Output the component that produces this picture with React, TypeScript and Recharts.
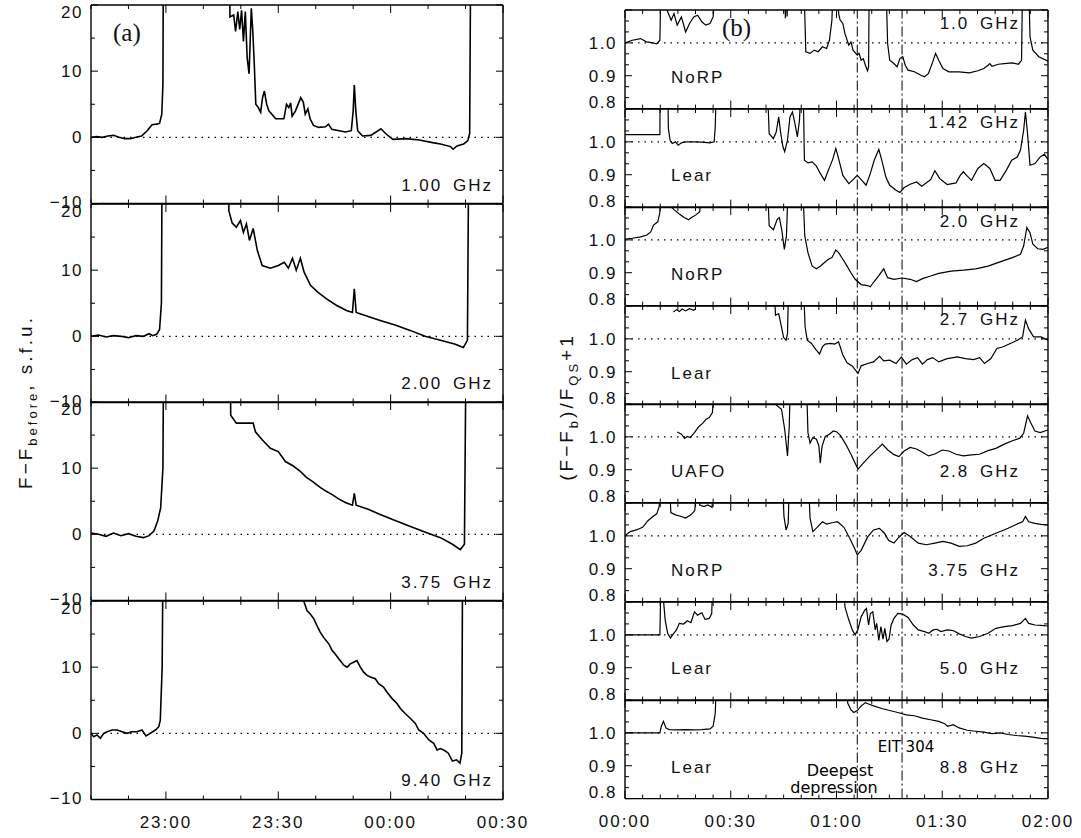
import { Line, LineChart, ReferenceLine, XAxis, YAxis } from 'recharts'

type Pt = [number, number | null]

// time axis in minutes: left panel counted from 22:00, right panel from 00:00
const leftXTicks = [40, 50, 60, 70, 80, 90, 100, 110, 120, 130, 140, 150]
const leftXMajor = [60, 90, 120, 150]
const leftYTicks = [-10, -5, 0, 5, 10, 15, 20]
const leftYMajor = [-10, 0, 10, 20]
const leftYLabels = [-10, 0, 10, 20]

const rightXTicks = [0, 5, 10, 15, 20, 25, 30, 35, 40, 45, 50, 55, 60, 65, 70, 75, 80, 85, 90, 95, 100, 105, 110, 115, 120]
const rightXMajor = [0, 30, 60, 90, 120]
const rightYTicks = [0.8, 0.8333, 0.8667, 0.9, 0.9333, 0.9667, 1.0, 1.0333, 1.0667, 1.1]
const rightYMajor = [0.8, 0.9, 1.0, 1.1]
const rightYLabels = [0.8, 0.9, 1.0]

// deepest depression, EIT 304
const eventTimes = [65.9, 78.6]

// (a) flux minus pre-flare level, s.f.u.
const ghz100: Pt[] = [
  [40, 0], [41.5, 0.1], [43, 0], [44.5, 0.2], [46, 0.3], [47.5, 0], [49, -0.2], [50.5, -0.2], [52, 0],
  [53.5, 0.2], [55, 1], [56.3, 1.9], [57.5, 2], [58.3, 2.1], [58.9, 3.5], [59.2, 8], [59.4, 40],
  [76.8, 40], [77.1, 18.2], [78.1, 18.5], [78.6, 16], [79.2, 19], [79.7, 16.3], [80.2, 19.2], [80.7, 14.5],
  [81.2, 19], [81.7, 12], [82.2, 9.6], [82.8, 19.5], [83.2, 16], [83.6, 11], [84.0, 5], [84.7, 4.5],
  [85.3, 3.8], [85.8, 6], [86.3, 7], [86.9, 5], [87.5, 4], [88.3, 3.5], [89.3, 2.8], [91.5, 2.8],
  [92.2, 5], [92.8, 4.5], [93.3, 5.2], [93.7, 3.2], [94.6, 4], [96.0, 6], [96.7, 5.3], [97.2, 3.5],
  [97.9, 4.3], [98.5, 2.8], [99.4, 1.8], [100.8, 1.5], [102.6, 1.6], [103.4, 2], [104.3, 1.2],
  [107.9, 0.8], [109.5, 1], [110.0, 4], [110.3, 7.9], [110.7, 4], [111.2, 1], [112.5, 0.2],
  [114.7, 0.3], [116.1, 0.8], [117.4, 1.3], [118.8, 0.5], [120.6, -0.3], [124.1, -0.2], [127.7, -0.4],
  [131.2, -0.8], [133.3, -1], [136.0, -1.4], [136.7, -1.8], [137.7, -1.3], [139.5, -1], [140.6, -0.5],
  [141.1, 0.6], [141.5, 40], [150, 40],
]

const ghz200: Pt[] = [
  [40, 0], [42, 0.2], [44, -0.1], [46, 0.1], [48, 0], [50, -0.2], [52, 0.1], [54, 0], [55.5, 0.4],
  [56.5, 0.1], [57.5, 0.3], [58.3, 1], [58.8, 5], [59.1, 40], [76.6, 40], [76.8, 19], [77.7, 17.1],
  [78.8, 16.5], [79.9, 17.5], [80.7, 15.7], [81.5, 17], [82.3, 14.5], [83.3, 16.3], [84.4, 13],
  [85.7, 10.7], [87.9, 10.3], [90.0, 10.7], [91.6, 11.2], [92.7, 10.3], [93.8, 11.8], [94.8, 10],
  [95.9, 11.8], [96.9, 9.7], [98.6, 7.7], [100.7, 6.6], [102.8, 5.7], [105.5, 4.7], [108.2, 3.9],
  [109.8, 3.6], [110.3, 7.2], [110.8, 3.6], [114.0, 3], [117.2, 2.4], [121.2, 1.7], [125.2, 0.9],
  [129.2, 0], [133.3, -0.6], [137.3, -1.2], [139.4, -1.7], [140.5, -0.6], [141.0, 40], [150, 40],
]

const ghz375: Pt[] = [
  [40, 0.2], [42, 0], [44, -0.3], [46, 0.2], [48, -0.2], [50, 0.1], [52, -0.3], [54, -0.5], [55.5, -0.2],
  [56.8, 0.5], [57.8, 2], [58.6, 4], [59.2, 10], [59.5, 40], [77.0, 40], [77.3, 18], [78.8, 16.8],
  [83.3, 16.8], [83.9, 15.5], [85.7, 14.3], [87.9, 13], [90.0, 12.5], [91.9, 11], [93.8, 10.4],
  [95.9, 9.5], [97.5, 8.6], [99.1, 8], [101.2, 7.1], [102.8, 6.5], [104.4, 6], [106.0, 5.4],
  [107.9, 4.8], [109.8, 4.4], [110.3, 6.2], [110.8, 4.4], [114.0, 3.8], [117.2, 3], [121.2, 2.1],
  [125.3, 1.2], [129.3, 0.3], [133.3, -0.5], [136.5, -1.5], [138.6, -2.3], [139.7, -1.5], [140.3, 40],
  [150, 40],
]

const ghz940: Pt[] = [
  [40, 0], [40.7, -0.5], [41.6, -0.25], [42.5, -0.75], [43.4, 0], [44.3, 0.25], [45.6, 0.5], [47, 0.5],
  [48.3, 0.25], [49.6, 0], [50.9, 0.25], [52.3, 0.25], [53.6, 0.5], [54.7, -0.4], [55.8, 0], [57.2, 0.5],
  [58.1, 1], [58.5, 2], [59.0, 10], [59.4, 40], [96.6, 40], [96.8, 20], [97.7, 18.5], [98.6, 18],
  [99.5, 17.3], [100.3, 16.3], [101.2, 15.3], [102.1, 14.5], [103.5, 13.5], [104.4, 12.5], [105.2, 12],
  [106.1, 11.3], [107.5, 10.3], [108.4, 10], [109.2, 10.5], [110.1, 10.75], [111.0, 11], [111.9, 10],
  [112.8, 9.25], [113.7, 8.75], [114.6, 8.5], [115.9, 8.25], [116.8, 7.5], [118.1, 7], [119.0, 6.25],
  [120.4, 5.25], [121.7, 4.5], [122.6, 3.75], [123.9, 3], [125.3, 2.25], [126.6, 1.5], [127.5, 0.5],
  [128.8, 0], [130.2, -1], [131.5, -1.5], [132.4, -2.5], [133.3, -2.3], [134.4, -2.6], [135.4, -3],
  [136.5, -4.2], [137.6, -4], [138.5, -4.5], [139.0, -3], [139.3, 40], [150, 40],
]

// (b) normalised flux (F - Fb)/Fqs + 1
const norp10: Pt[] = [
  [0, 1.0], [2.1, 1.008], [4.4, 1.013], [6.1, 1.003], [7.9, 1.0], [9.0, 0.997], [9.9, 1.008], [10.2, 1.2],
  [11.7, 1.2], [11.9, 1.1], [13.1, 1.069], [13.9, 1.089], [14.8, 1.054], [16.0, 1.079], [17.2, 1.033],
  [18.3, 1.059], [19.5, 1.079], [20.6, 1.084], [21.8, 1.064], [22.9, 1.054], [24.1, 1.059], [25.0, 1.079],
  [25.8, 1.2], [45.2, 1.2], [45.5, 1.075], [45.8, 1.2], [46.0, 1.08], [46.3, 1.2], [50.7, 1.2],
  [51.3, 0.973], [52.5, 0.968], [53.7, 0.978], [54.8, 0.973], [56.0, 0.988], [57.2, 0.983], [58.0, 1.008],
  [58.7, 1.069], [59.1, 1.2], [60.2, 1.2], [60.6, 1.09], [61.0, 1.07], [61.8, 1.059], [62.4, 1.028],
  [63.5, 0.993], [64.1, 1.003], [64.7, 0.978], [65.9, 0.963], [66.4, 0.968], [67.0, 0.947], [67.6, 0.952],
  [68.2, 0.932], [68.8, 0.915], [69.1, 0.927], [69.3, 1.2], [74.0, 1.2], [74.5, 0.998], [75.1, 0.947],
  [76.3, 0.937], [77.2, 0.927], [78.0, 0.953], [78.8, 0.958], [79.5, 0.932], [80.3, 0.917], [82.1, 0.912],
  [83.8, 0.902], [85.0, 0.897], [86.1, 0.907], [87.3, 0.942], [88.1, 0.968], [89.0, 0.947], [90.2, 0.922],
  [91.9, 0.912], [94.8, 0.912], [97.7, 0.909], [100.1, 0.915], [101.8, 0.922], [103.0, 0.932],
  [103.5, 0.937], [104.1, 0.929], [105.9, 0.935], [107.6, 0.937], [109.9, 0.939], [111.6, 0.935],
  [112.5, 0.947], [112.8, 1.2], [114.5, 1.2], [114.9, 1.018], [115.7, 0.978], [117.4, 0.958], [120, 0.944],
]

const lear142: Pt[] = [
  [0, 1.022], [9.9, 1.022], [9.95, 1.2], [12.1, 1.2], [12.3, 1.041], [12.8, 1.005], [13.4, 0.995],
  [14.3, 1.0], [15.1, 0.99], [16.0, 0.997], [17.2, 1.0], [19.5, 1.0], [21.8, 0.999], [24.1, 0.997],
  [25.3, 1.0], [25.6, 1.046], [26.0, 1.2], [40.3, 1.2], [40.9, 1.025], [42.1, 1.01], [42.9, 1.03],
  [43.6, 1.076], [44.2, 1.025], [44.8, 0.985], [45.3, 0.97], [46.1, 1.005], [46.8, 1.076], [47.5, 1.091],
  [48.2, 1.056], [48.9, 1.015], [49.5, 1.066], [50.0, 1.2], [50.5, 1.2], [50.9, 0.944], [51.9, 0.936],
  [53.1, 0.939], [54.3, 0.926], [55.4, 0.904], [56.6, 0.883], [57.7, 0.914], [58.9, 0.946], [59.8, 0.98],
  [60.6, 0.949], [61.8, 0.898], [63.5, 0.873], [64.7, 0.885], [65.9, 0.898], [67.2, 0.883], [68.4, 0.868],
  [69.6, 0.904], [70.7, 0.944], [72.0, 0.977], [72.8, 0.946], [74.0, 0.893], [75.1, 0.868], [76.9, 0.853],
  [78.0, 0.846], [79.2, 0.861], [80.9, 0.871], [82.7, 0.878], [84.2, 0.865], [85.8, 0.878], [86.7, 0.885],
  [87.9, 0.912], [89.3, 0.888], [91.4, 0.87], [93.9, 0.875], [95.1, 0.898], [96.0, 0.909], [96.9, 0.898],
  [98.3, 0.883], [100.1, 0.919], [101.8, 0.934], [103.5, 0.919], [105.0, 0.883], [106.4, 0.883],
  [108.2, 0.914], [109.7, 0.944], [111.3, 0.954], [112.2, 0.975], [113.1, 1.036], [113.6, 1.091],
  [114.2, 1.025], [114.9, 0.929], [116.3, 0.934], [117.8, 0.954], [119.0, 0.962], [120, 0.946],
]

const norp20: Pt[] = [
  [0, 1.002], [2.1, 1.005], [4.4, 1.009], [6.1, 1.014], [7.3, 1.024], [8.1, 1.045], [9.3, 1.055],
  [9.9, 1.084], [10.2, 1.2], [13.0, 1.2], [13.1, 1.1], [13.9, 1.092], [15.4, 1.079], [16.8, 1.068],
  [18.0, 1.061], [18.9, 1.068], [20.1, 1.076], [21.2, 1.086], [21.8, 1.2], [40.3, 1.2], [40.9, 1.043],
  [42.1, 1.031], [43.2, 1.063], [43.8, 1.068], [44.5, 1.028], [45.2, 0.971], [45.8, 1.012], [46.4, 1.2],
  [50.3, 1.2], [51.0, 1.012], [51.9, 0.961], [53.1, 0.92], [54.3, 0.912], [55.4, 0.92], [56.6, 0.931],
  [57.7, 0.941], [58.7, 0.946], [59.8, 0.969], [60.6, 0.961], [61.8, 0.941], [63.0, 0.92], [64.1, 0.9],
  [65.3, 0.88], [67.0, 0.864], [68.8, 0.861], [69.6, 0.857], [70.5, 0.871], [71.9, 0.89], [73.4, 0.912],
  [74.5, 0.885], [76.3, 0.88], [78.6, 0.884], [80.9, 0.88], [82.7, 0.873], [84.4, 0.882], [86.7, 0.89],
  [89.0, 0.898], [92.5, 0.905], [96.0, 0.908], [99.5, 0.912], [103.0, 0.92], [106.4, 0.933],
  [109.9, 0.946], [112.2, 0.956], [113.1, 0.982], [114.0, 1.038], [114.9, 1.022], [115.7, 0.987],
  [117.1, 0.973], [118.6, 0.971], [120, 0.977],
]

const lear27: Pt[] = [
  [13.7, 1.082], [14.6, 1.089], [15.4, 1.083], [16.2, 1.091], [17.2, 1.085], [18.3, 1.092], [19.5, 1.087],
  [20.1, 1.092], [20.2, null], [42.1, 1.2], [42.7, 1.072], [43.6, 1.077], [44.4, 1.036], [45.0, 1.004],
  [45.7, 0.996], [46.1, 1.016], [46.5, 1.2], [50.5, 1.2], [51.1, 1.036], [51.7, 0.996], [52.9, 0.986],
  [54.1, 0.968], [55.2, 0.954], [56.0, 0.976], [56.8, 0.984], [58.3, 0.986], [59.5, 0.984], [60.6, 0.991],
  [61.8, 0.951], [63.0, 0.927], [64.5, 0.917], [66.1, 0.895], [67.0, 0.918], [68.8, 0.925], [70.5, 0.93],
  [72.2, 0.947], [73.4, 0.933], [75.1, 0.935], [76.9, 0.925], [78.4, 0.945], [79.8, 0.923], [81.5, 0.937],
  [83.0, 0.943], [84.4, 0.923], [85.8, 0.937], [87.3, 0.943], [89.0, 0.93], [91.4, 0.94], [94.3, 0.945],
  [96.6, 0.94], [98.9, 0.937], [100.6, 0.943], [102.0, 0.925], [103.8, 0.94], [105.5, 0.971],
  [107.3, 0.976], [109.3, 0.986], [111.3, 0.996], [112.8, 1.006], [113.6, 1.057], [114.5, 1.031],
  [115.9, 1.006], [118.0, 1.006], [120, 0.996],
]

const uafo28: Pt[] = [
  [14.8, 1.015], [16.0, 1.008], [16.9, 0.995], [17.7, 1.001], [18.5, 0.998], [19.7, 1.013], [20.9, 1.031],
  [22.0, 1.041], [23.0, 1.054], [23.9, 1.059], [24.8, 1.074], [25.6, 1.2], [42.4, 1.2], [42.9, 1.097],
  [44.4, 1.084], [45.3, 1.023], [46.1, 0.942], [46.6, 1.033], [47.0, 1.2], [51.4, 1.2], [51.9, 1.013],
  [52.5, 0.981], [53.3, 0.998], [54.3, 0.993], [55.0, 0.973], [55.4, 0.92], [55.9, 0.971], [56.8, 1.001],
  [58.0, 1.008], [59.1, 1.018], [60.1, 1.015], [61.2, 1.003], [62.6, 0.978], [64.1, 0.947], [65.3, 0.92],
  [66.1, 0.902], [67.6, 0.92], [69.3, 0.94], [71.4, 0.961], [73.0, 0.978], [74.5, 0.961], [76.3, 0.946],
  [77.7, 0.94], [79.2, 0.957], [80.9, 0.968], [82.7, 0.963], [84.4, 0.953], [86.1, 0.942], [87.9, 0.948],
  [90.0, 0.96], [91.9, 0.957], [93.9, 0.947], [96.0, 0.942], [98.3, 0.945], [100.6, 0.947], [103.0, 0.958],
  [105.2, 0.965], [107.6, 0.978], [109.9, 0.988], [112.0, 0.996], [113.1, 1.011], [114.2, 1.064],
  [115.1, 1.043], [116.3, 1.018], [117.8, 1.013], [120, 1.021],
]

const norp375: Pt[] = [
  [0, 1.0], [1.5, 1.013], [3.2, 1.018], [5.0, 1.026], [6.5, 1.046], [7.9, 1.059], [9.0, 1.067],
  [9.7, 1.089], [10.2, 1.2], [12.5, 1.2], [13.0, 1.071], [14.3, 1.064], [16.0, 1.059], [17.2, 1.054],
  [18.7, 1.064], [19.8, 1.077], [20.6, 1.2], [21.2, 1.094], [22.4, 1.089], [23.5, 1.094], [24.7, 1.087],
  [25.3, 1.2], [44.5, 1.2], [45.1, 1.059], [45.7, 1.018], [46.3, 1.038], [46.7, 1.2], [51.9, 1.2],
  [52.5, 1.054], [53.3, 1.013], [54.5, 1.026], [56.0, 1.043], [57.2, 1.036], [58.7, 1.04], [60.3, 1.043],
  [62.1, 1.026], [63.9, 0.99], [65.3, 0.958], [65.9, 0.942], [67.0, 0.956], [68.8, 0.996], [70.5, 1.018],
  [72.2, 1.023], [73.6, 1.008], [74.8, 0.986], [76.3, 0.978], [77.7, 0.996], [79.2, 1.01], [80.9, 0.998],
  [83.2, 0.978], [85.5, 0.973], [87.9, 0.978], [90.2, 0.983], [92.5, 0.978], [94.8, 0.968], [97.1, 0.97],
  [99.5, 0.978], [101.8, 0.993], [105.2, 1.008], [108.7, 1.023], [111.6, 1.038], [112.8, 1.043],
  [113.6, 1.059], [114.5, 1.043], [116.3, 1.038], [118.0, 1.035], [120, 1.033],
]

const lear50: Pt[] = [
  [0, 1.0], [9.9, 1.0], [10.1, 1.12], [10.8, 1.12], [11.4, 1.045], [12.1, 1.005], [12.9, 0.99],
  [13.7, 1.003], [14.6, 1.015], [15.4, 1.035], [16.6, 1.033], [17.7, 1.043], [18.7, 1.037], [19.7, 1.07],
  [20.6, 1.06], [21.8, 1.067], [22.7, 1.047], [23.9, 1.05], [24.6, 1.065], [25.0, 1.2], [61.8, 1.2],
  [62.4, 1.085], [63.5, 1.045], [64.5, 1.015], [65.3, 1.0], [66.1, 1.017], [67.0, 1.055], [68.0, 1.075],
  [68.5, 1.08], [69.1, 1.03], [69.6, 1.065], [70.3, 1.07], [71.0, 1.015], [71.4, 1.035], [72.0, 0.983],
  [72.6, 1.025], [73.2, 0.987], [73.7, 1.02], [74.3, 0.98], [74.9, 0.987], [75.5, 1.03], [76.3, 1.05],
  [77.4, 1.065], [78.8, 1.063], [80.3, 1.053], [81.8, 1.03], [83.2, 1.015], [85.0, 1.01], [86.2, 1.005],
  [87.4, 1.015], [88.5, 1.017], [89.6, 1.01], [91.4, 1.015], [93.1, 1.013], [94.8, 1.003], [96.6, 0.995],
  [98.3, 0.99], [100.6, 0.995], [103.0, 1.005], [105.2, 1.02], [107.6, 1.025], [109.9, 1.028],
  [112.2, 1.035], [113.6, 1.05], [114.5, 1.035], [116.3, 1.03], [118.0, 1.029], [120, 1.027],
]

const lear88: Pt[] = [
  [0, 1.0], [9.9, 1.0], [10.3, 1.02], [10.9, 1.035], [11.6, 1.015], [12.5, 1.01], [14.8, 1.009],
  [17.2, 1.01], [19.5, 1.009], [21.8, 1.01], [24.1, 1.012], [25.0, 1.02], [25.6, 1.06], [26.1, 1.2],
  [62.4, 1.2], [63.2, 1.09], [64.1, 1.07], [64.9, 1.062], [65.9, 1.068], [67.0, 1.082], [68.2, 1.092],
  [69.1, 1.088], [70.5, 1.082], [72.8, 1.074], [75.1, 1.068], [77.4, 1.062], [79.8, 1.055], [82.1, 1.052],
  [84.4, 1.045], [86.7, 1.04], [89.0, 1.035], [90.7, 1.028], [91.5, 1.02], [93.1, 1.025], [94.8, 1.015],
  [97.1, 1.008], [99.5, 1.005], [101.8, 1.002], [104.1, 0.998], [106.4, 1.0], [108.7, 0.995],
  [111.0, 0.992], [113.3, 0.99], [115.7, 0.987], [118.0, 0.983], [120, 0.982],
]

const leftPanels = [
  { pts: ghz100, freq: '1.00 GHz' },
  { pts: ghz200, freq: '2.00 GHz' },
  { pts: ghz375, freq: '3.75 GHz' },
  { pts: ghz940, freq: '9.40 GHz' },
]

const rightPanels = [
  { pts: norp10, station: 'NoRP', freq: '1.0 GHz', high: true },
  { pts: lear142, station: 'Lear', freq: '1.42 GHz', high: true },
  { pts: norp20, station: 'NoRP', freq: '2.0 GHz', high: true },
  { pts: lear27, station: 'Lear', freq: '2.7 GHz', high: true },
  { pts: uafo28, station: 'UAFO', freq: '2.8 GHz', high: false },
  { pts: norp375, station: 'NoRP', freq: '3.75 GHz', high: false },
  { pts: lear50, station: 'Lear', freq: '5.0 GHz', high: false },
  { pts: lear88, station: 'Lear', freq: '8.8 GHz', high: false },
]

const FONT = '"Liberation Sans", Arial, sans-serif'
const INK = '#111'

const L = { x: 91, w: 412, top: 5, h: 198.5 }
const R = { x: 625, w: 423, top: 10, h: 98.6 }

const near = (list: number[], v: number) => list.some((l) => Math.abs(l - v) < 1e-6)

function hhmm(base: number, t: number) {
  const m = (base + t) % 1440
  const h = Math.floor(m / 60)
  const mm = Math.round(m % 60)
  return `${String(h).padStart(2, '0')}:${String(mm).padStart(2, '0')}`
}

interface TickArgs {
  x?: number
  y?: number
  payload?: { value: number }
}

function xTick(side: 'top' | 'bottom', major: number[], fmt?: (v: number) => string) {
  return (p: TickArgs) => {
    const x = p.x ?? 0
    const y = p.y ?? 0
    const v = p.payload?.value ?? 0
    const isMajor = near(major, v)
    const len = isMajor ? 8 : 4
    const d = side === 'bottom' ? -1 : 1
    return (
      <g>
        <line x1={x} x2={x} y1={y} y2={y + d * len} stroke="#000" strokeWidth={1} />
        {fmt && isMajor && (
          <text x={x} y={y + 28} textAnchor="middle" fontFamily={FONT} fontSize={17} letterSpacing={2} fill={INK}>
            {fmt(v)}
          </text>
        )}
      </g>
    )
  }
}

function yTick(
  side: 'left' | 'right',
  major: number[],
  labels?: number[],
  fmt?: (v: number) => string,
  shift?: (v: number) => number,
) {
  return (p: TickArgs) => {
    const x = p.x ?? 0
    const y = p.y ?? 0
    const v = p.payload?.value ?? 0
    const len = near(major, v) ? 7 : 4
    const d = side === 'left' ? 1 : -1
    const show = labels && fmt && near(labels, v)
    const dy = shift ? shift(v) : 0
    return (
      <g>
        <line x1={x} x2={x + d * len} y1={y} y2={y} stroke="#000" strokeWidth={1} />
        {show && (
          <text x={x - 8} y={y + 6 + dy} textAnchor="end" fontFamily={FONT} fontSize={17} letterSpacing={1.5} fill={INK}>
            {fmt(v)}
          </text>
        )}
      </g>
    )
  }
}

interface PanelProps {
  pts: Pt[]
  x: number
  y: number
  w: number
  h: number
  xDomain: [number, number]
  xTicks: number[]
  xMajor: number[]
  xFmt?: (v: number) => string
  yDomain: [number, number]
  yTicks: number[]
  yMajor: number[]
  yLabels: number[]
  yFmt: (v: number) => string
  shift: (v: number) => number
  base: number
  events: number[]
  sw: number
}

function Panel(p: PanelProps) {
  const ML = 80
  const MR = 40
  const MT = 12
  const MB = 40
  const rows = p.pts.map(([t, v]) => ({ t, v }))
  const axisLine = { stroke: '#000', strokeWidth: 1.4 }
  // axes are 1px thick, so margins are reduced by 1 to keep the plot box in place
  return (
    <div style={{ position: 'absolute', left: p.x - ML, top: p.y - MT }}>
      <LineChart width={p.w + ML + MR} height={p.h + MT + MB} data={rows}
        margin={{ left: ML - 1, right: MR - 1, top: MT - 1, bottom: MB - 1 }}>
        <XAxis dataKey="t" type="number" domain={p.xDomain} ticks={p.xTicks} interval={0} allowDataOverflow height={1}
          tickSize={0} tickMargin={0} tickLine={false} axisLine={axisLine} tick={xTick('bottom', p.xMajor, p.xFmt)} />
        <XAxis xAxisId="top" orientation="top" dataKey="t" type="number" domain={p.xDomain} ticks={p.xTicks} interval={0}
          allowDataOverflow height={1} tickSize={0} tickMargin={0} tickLine={false} axisLine={axisLine}
          tick={xTick('top', p.xMajor)} />
        <YAxis type="number" domain={p.yDomain} ticks={p.yTicks} interval={0} allowDataOverflow width={1}
          tickSize={0} tickMargin={0} tickLine={false} axisLine={axisLine}
          tick={yTick('left', p.yMajor, p.yLabels, p.yFmt, p.shift)} />
        <YAxis yAxisId="r" orientation="right" type="number" domain={p.yDomain} ticks={p.yTicks} interval={0}
          allowDataOverflow width={1} tickSize={0} tickMargin={0} tickLine={false} axisLine={axisLine}
          tick={yTick('right', p.yMajor)} />
        <ReferenceLine y={p.base} stroke="#000" strokeWidth={1.2} strokeDasharray="1.5 5" />
        {p.events.map((t) => (
          <ReferenceLine key={t} x={t} stroke="#000" strokeWidth={1} strokeDasharray="10 3 2 3" />
        ))}
        <Line dataKey="v" type="linear" stroke="#000" strokeWidth={p.sw} dot={false} activeDot={false}
          connectNulls={false} isAnimationActive={false} />
      </LineChart>
    </div>
  )
}

const leftYFmt = (v: number) => (v < 0 ? `\u2212${Math.abs(v)}` : `${v}`)
const rightYFmt = (v: number) => v.toFixed(1)
// the end labels are nudged inside the box, as in the original plot
const leftShift = (v: number) => (v >= 20 ? 7 : v <= -10 ? -2 : 0)
const rightShift = (v: number) => (v <= 0.8 ? -7 : 0)

export default function App() {
  const ry = (v: number, i: number) => R.top + i * R.h + ((1.1 - v) / 0.3) * R.h
  return (
    <div style={{ position: 'absolute', left: 0, top: 0, width: 1081, height: 838, background: '#fff', overflow: 'hidden' }}>
      {leftPanels.map((panel, i) => (
        <Panel key={panel.freq} pts={panel.pts} x={L.x} y={L.top + i * L.h} w={L.w} h={L.h}
          xDomain={[40, 150]} xTicks={leftXTicks} xMajor={leftXMajor}
          xFmt={i === leftPanels.length - 1 ? (v) => hhmm(22 * 60, v) : undefined}
          yDomain={[-10, 20]} yTicks={leftYTicks} yMajor={leftYMajor} yLabels={leftYLabels} yFmt={leftYFmt}
          shift={leftShift} base={0} events={[]} sw={1.6} />
      ))}
      {rightPanels.map((panel, i) => (
        <Panel key={panel.freq} pts={panel.pts} x={R.x} y={R.top + i * R.h} w={R.w} h={R.h}
          xDomain={[0, 120]} xTicks={rightXTicks} xMajor={rightXMajor}
          xFmt={i === rightPanels.length - 1 ? (v) => hhmm(0, v) : undefined}
          yDomain={[0.8, 1.1]} yTicks={rightYTicks} yMajor={rightYMajor} yLabels={rightYLabels} yFmt={rightYFmt}
          shift={rightShift} base={1.0} events={eventTimes} sw={1.2} />
      ))}
      <svg width={1081} height={838} style={{ position: 'absolute', left: 0, top: 0, pointerEvents: 'none' }}>
        <g fontFamily={FONT} fontSize={17} letterSpacing={2} fill={INK}>
          {leftPanels.map((panel, i) => (
            <text key={panel.freq} x={493} y={L.top + (i + 1) * L.h - 13} textAnchor="end" wordSpacing={4}>
              {panel.freq}
            </text>
          ))}
          {rightPanels.map((panel, i) => (
            <g key={panel.freq}>
              <text x={671} y={ry(0.9, i) + 7}>{panel.station}</text>
              <text x={1020} y={ry(panel.high ? 1.062 : 0.9, i) + 7} textAnchor="end" wordSpacing={4}>
                {panel.freq}
              </text>
            </g>
          ))}
          <text transform="translate(32,402) rotate(-90)" textAnchor="middle" fontSize={19} letterSpacing={3}>
            F−F<tspan dy={5} fontSize={13}>before</tspan>
            <tspan dy={-5}>, s.f.u.</tspan>
          </text>
          <text transform="translate(573,407) rotate(-90)" textAnchor="middle" fontSize={19} letterSpacing={3}>
            (F−F<tspan dy={5} fontSize={13}>b</tspan>
            <tspan dy={-5}>)/F</tspan>
            <tspan dy={5} fontSize={13}>QS</tspan>
            <tspan dy={-5}>+1</tspan>
          </text>
        </g>
        <text x={113} y={41} fontFamily='"Liberation Serif", serif' fontSize={25} fill={INK}>(a)</text>
        <text x={722} y={36} fontFamily='"Liberation Serif", serif' fontSize={25} fill={INK}>(b)</text>
        <g fontFamily='"DejaVu Sans", sans-serif' fontSize={16} fill="#000" textAnchor="middle">
          <text x={840} y={776}>Deepest</text>
          <text x={834} y={793}>depression</text>
          <text x={906} y={752} fontSize={15}>EIT 304</text>
        </g>
      </svg>
    </div>
  )
}
